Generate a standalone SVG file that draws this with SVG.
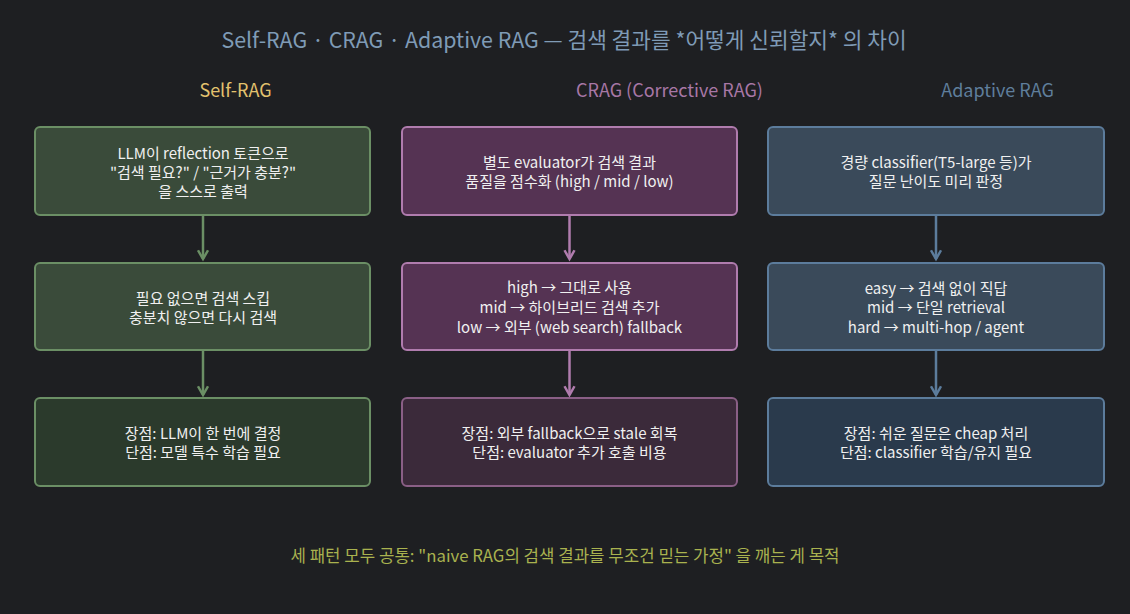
<svg xmlns="http://www.w3.org/2000/svg" width="1130" height="614" viewBox="0 0 1130 614">
<defs>
<style>
text{font-family:"Noto Sans CJK KR","Noto Sans",sans-serif;text-anchor:middle;dominant-baseline:central}
.t{font-size:15px;fill:#f0f0f0}
.box{stroke-width:2}
.g1{fill:#3a4b3a;stroke:#6b8f65}
.g3{fill:#2b3a2c;stroke:#6b8f65}
.p1{fill:#553353;stroke:#b07cae}
.p3{fill:#3b2a3a;stroke:#8a5f86}
.b1{fill:#3a4a5a;stroke:#5c7c9c}
.b3{fill:#2a3a4c;stroke:#5c7c9c}
.cg{stroke:#6b8f65}
.cp{stroke:#b07cae}
.cb{stroke:#5c7c9c}
.c{stroke-width:2.5;fill:none}
</style>
<marker id="ag" viewBox="0 0 10 10" refX="8" refY="5" markerWidth="5" markerHeight="5" orient="auto"><path d="M1,1 L8,5 L1,9" fill="none" stroke="#6b8f65" stroke-width="2"/></marker>
<marker id="ap" viewBox="0 0 10 10" refX="8" refY="5" markerWidth="5" markerHeight="5" orient="auto"><path d="M1,1 L8,5 L1,9" fill="none" stroke="#b07cae" stroke-width="2"/></marker>
<marker id="ab" viewBox="0 0 10 10" refX="8" refY="5" markerWidth="5" markerHeight="5" orient="auto"><path d="M1,1 L8,5 L1,9" fill="none" stroke="#5c7c9c" stroke-width="2"/></marker>
</defs>
<rect width="1130" height="614" fill="#1e1f22"/>
<text x="564" y="38" font-size="21.4" fill="#7f9bb6">Self-RAG · CRAG · Adaptive RAG — 검색 결과를 *어떻게 신뢰할지* 의 차이</text>
<text x="235.5" y="89" font-size="18" fill="#e3c26e">Self-RAG</text>
<text x="669.5" y="89" font-size="18" fill="#a877a6">CRAG (Corrective RAG)</text>
<text x="997.5" y="89" font-size="18" fill="#5f7e9c">Adaptive RAG</text>
<g id="connectors">
<line class="c cg" x1="203" y1="215" x2="203" y2="259" marker-end="url(#ag)"/>
<line class="c cg" x1="203" y1="350" x2="203" y2="395" marker-end="url(#ag)"/>
<line class="c cp" x1="569.5" y1="215" x2="569.5" y2="259" marker-end="url(#ap)"/>
<line class="c cp" x1="569.5" y1="350" x2="569.5" y2="395" marker-end="url(#ap)"/>
<line class="c cb" x1="936" y1="215" x2="936" y2="259" marker-end="url(#ab)"/>
<line class="c cb" x1="936" y1="350" x2="936" y2="395" marker-end="url(#ab)"/>
</g>
<g id="self1"><rect class="box g1" x="35" y="127" width="335" height="88" rx="5"/>
<text class="t" x="203" y="152">LLM이 reflection 토큰으로</text>
<text class="t" x="203" y="171">"검색 필요?" / "근거가 충분?"</text>
<text class="t" x="203" y="190">을 스스로 출력</text></g>
<g id="self2"><rect class="box g1" x="35" y="263" width="335" height="87" rx="5"/>
<text class="t" x="203" y="297">필요 없으면 검색 스킵</text>
<text class="t" x="203" y="316">충분치 않으면 다시 검색</text></g>
<g id="self3"><rect class="box g3" x="35" y="398" width="335" height="88" rx="5"/>
<text class="t" x="203" y="432">장점: LLM이 한 번에 결정</text>
<text class="t" x="203" y="451">단점: 모델 특수 학습 필요</text></g>
<g id="crag1"><rect class="box p1" x="402" y="127" width="335" height="88" rx="5"/>
<text class="t" x="569.5" y="161">별도 evaluator가 검색 결과</text>
<text class="t" x="569.5" y="180">품질을 점수화 (high / mid / low)</text></g>
<g id="crag2"><rect class="box p1" x="402" y="263" width="335" height="87" rx="5"/>
<text class="t" x="569.5" y="286">high → 그대로 사용</text>
<text class="t" x="569.5" y="306">mid → 하이브리드 검색 추가</text>
<text class="t" x="569.5" y="326">low → 외부 (web search) fallback</text></g>
<g id="crag3"><rect class="box p3" x="402" y="398" width="335" height="88" rx="5"/>
<text class="t" x="569.5" y="432">장점: 외부 fallback으로 stale 회복</text>
<text class="t" x="569.5" y="451">단점: evaluator 추가 호출 비용</text></g>
<g id="ada1"><rect class="box b1" x="768" y="127" width="336" height="88" rx="5"/>
<text class="t" x="936" y="161">경량 classifier(T5-large 등)가</text>
<text class="t" x="936" y="180">질문 난이도 미리 판정</text></g>
<g id="ada2"><rect class="box b1" x="768" y="263" width="336" height="87" rx="5"/>
<text class="t" x="936" y="287">easy → 검색 없이 직답</text>
<text class="t" x="936" y="306">mid → 단일 retrieval</text>
<text class="t" x="936" y="326">hard → multi-hop / agent</text></g>
<g id="ada3"><rect class="box b3" x="768" y="398" width="336" height="88" rx="5"/>
<text class="t" x="936" y="432">장점: 쉬운 질문은 cheap 처리</text>
<text class="t" x="936" y="451">단점: classifier 학습/유지 필요</text></g>
<text x="565" y="555" font-size="16.8" fill="#a9b24f">세 패턴 모두 공통: "naive RAG의 검색 결과를 무조건 믿는 가정" 을 깨는 게 목적</text>
</svg>
